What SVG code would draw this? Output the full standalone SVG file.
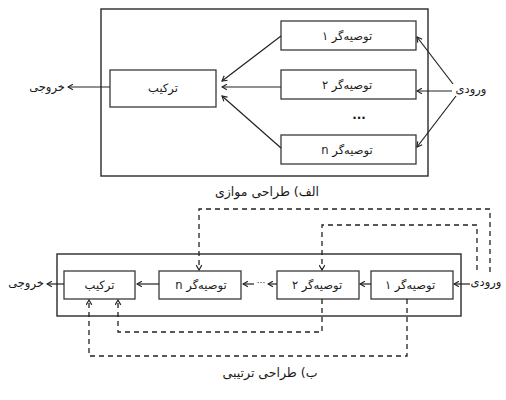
<svg xmlns="http://www.w3.org/2000/svg" width="506" height="400" viewBox="0 0 506 400">
<style>
  .frame{fill:none;stroke:#2a2a2a;stroke-width:1.4}
  .box{fill:#fff;stroke:#3a3a3a;stroke-width:1.3}
  .t{font-family:"DejaVu Sans",sans-serif;font-size:11.5px;fill:#1a1a1a;text-anchor:middle;dominant-baseline:central;direction:rtl;unicode-bidi:embed}
  .cap{font-size:12.5px}
  .ln{fill:none;stroke:#222;stroke-width:1.2;marker-end:url(#ah)}
  .ds{fill:none;stroke:#222;stroke-width:1.3;stroke-dasharray:5 4;marker-end:url(#ah)}
</style>
<defs>
  <marker id="ah" viewBox="0 0 10 10" refX="9" refY="5" markerWidth="7" markerHeight="7" markerUnits="userSpaceOnUse" orient="auto">
    <path d="M2,1 L9,5 L2,9" fill="none" stroke="#222" stroke-width="1.6"/>
  </marker>
</defs>
<rect width="506" height="400" fill="#fff"/>

<!-- Part A: parallel -->
<rect class="frame" x="101" y="9" width="327" height="167"/>
<g id="a-combine"><rect class="box" x="110" y="70" width="106" height="37"/><text class="t" x="163" y="88">ترکیب</text></g>
<g id="a-rec1"><rect class="box" x="281" y="21" width="135" height="29"/><text class="t" x="347" y="36">توصیه‌گر ۱</text></g>
<g id="a-rec2"><rect class="box" x="281" y="70" width="135" height="29"/><text class="t" x="347" y="85">توصیه‌گر ۲</text></g>
<g id="a-dots"><text class="t" x="359" y="115" style="font-size:12px;font-weight:bold">...</text></g>
<g id="a-recn"><rect class="box" x="281" y="135" width="135" height="29"/><text class="t" x="347" y="150">توصیه‌گر n</text></g>
<g id="a-input"><text class="t" x="471" y="89">ورودی</text></g>
<g id="a-output"><text class="t" x="47" y="87">خروجی</text></g>
<g id="a-caption"><text class="t cap" x="267" y="191">الف) طراحی موازی</text></g>

<!-- Part B: sequential -->
<rect class="frame" x="57" y="254" width="404" height="62"/>
<g id="b-combine"><rect class="box" x="64" y="271" width="71" height="28"/><text class="t" x="99.5" y="285">ترکیب</text></g>
<g id="b-recn"><rect class="box" x="159" y="271" width="82" height="28"/><text class="t" x="201" y="285">توصیه‌گر n</text></g>
<g id="b-rec2"><rect class="box" x="277" y="271" width="82" height="28"/><text class="t" x="317" y="285">توصیه‌گر ۲</text></g>
<g id="b-rec1"><rect class="box" x="371" y="271" width="82" height="28"/><text class="t" x="410" y="285">توصیه‌گر ۱</text></g>
<g id="b-dots"><text class="t" x="261" y="283" style="font-size:9px">···</text></g>
<g id="b-input"><text class="t" x="486" y="282">ورودی</text></g>
<g id="b-output"><text class="t" x="26" y="283">خروجی</text></g>
<g id="b-caption"><text class="t cap" x="270" y="372">ب) طراحی ترتیبی</text></g>

<g id="connectors">
  <!-- A -->
  <line class="ln" x1="281" y1="36" x2="222" y2="81"/>
  <line class="ln" x1="281" y1="87" x2="222" y2="87"/>
  <line class="ln" x1="281" y1="148" x2="222" y2="96"/>
  <line class="ln" x1="453" y1="84" x2="417" y2="37"/>
  <line class="ln" x1="452" y1="91" x2="417" y2="91"/>
  <line class="ln" x1="456" y1="96" x2="417" y2="147"/>
  <line class="ln" x1="110" y1="87" x2="68" y2="87"/>
  <!-- B solid -->
  <line class="ln" x1="470" y1="284" x2="454" y2="284"/>
  <line class="ln" x1="371" y1="284" x2="360" y2="284"/>
  <line class="ln" x1="277" y1="284" x2="268" y2="284"/>
  <line class="ln" x1="254" y1="284" x2="243" y2="284"/>
  <line class="ln" x1="159" y1="284" x2="137" y2="284"/>
  <line class="ln" x1="64" y1="284" x2="47" y2="284"/>
  <!-- B dashed -->
  <path class="ds" d="M490,272 V209 H199 V270"/>
  <path class="ds" d="M477,270 V225 H322 V270"/>
  <path class="ds" d="M322,299 V332 H118 V300"/>
  <path class="ds" d="M407,299 V356 H89 V300"/>
</g>
</svg>
